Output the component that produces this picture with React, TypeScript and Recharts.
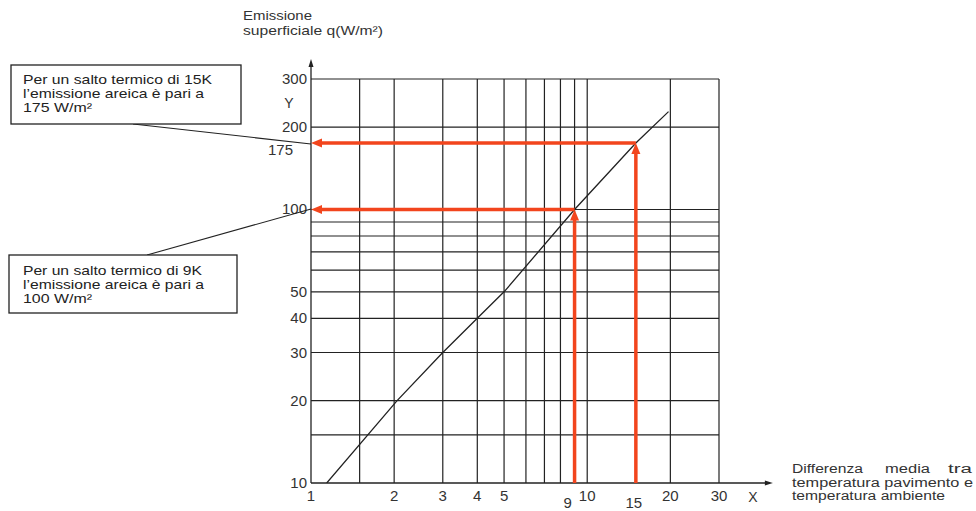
import React from 'react';
import { LineChart, Line, XAxis, YAxis, ReferenceLine } from 'recharts';

// ---- data ----
const xTicks = [1, 2, 3, 4, 5, 9, 10, 15, 20, 30];
const yTicks = [10, 20, 30, 40, 50, 100, 175, 200, 300];
const gridX = [1.5, 2, 3, 4, 5, 6, 7, 8, 9, 10, 20, 30];
const gridY = [15, 20, 30, 40, 50, 60, 70, 80, 90, 100, 200, 300];
const lineX = [1.14, 2.05, 3, 4, 5, 9, 15, 19.7];
const lineY = [10, 20, 30, 40, 50, 100, 175, 228];
const markerX = [9, 15];
const markerY = [100, 175];
const xMin = 1;
const yMin = 10;
const xAxisEnd = 47;
const yAxisEnd = 355;

const data = lineX.map((x, i) => ({ x, q: lineY[i] }));

const FONT = '"Liberation Sans", Arial, sans-serif';
const RED = '#f2451d';
const INK = '#222';

const XTick = (props: any) => {
  const { x, y, payload } = props;
  const v = payload.value;
  const dy = v === 9 ? 24.5 : v === 15 ? 24.5 : 18;
  const dx = v === 9 ? -7 : v === 15 ? -2 : 0;
  return (
    <text x={x + dx} y={y + dy} textAnchor="middle" fontSize={15} fill="#333" fontFamily={FONT}>
      {v}
    </text>
  );
};

const YTick = (props: any) => {
  const { x, y, payload } = props;
  const v = payload.value;
  const special = v === 175;
  return (
    <text
      x={special ? x - 18 : x - 4}
      y={y + (special ? 12 : 5)}
      textAnchor="end"
      fontSize={15}
      fill="#333"
      fontFamily={FONT}
    >
      {v}
    </text>
  );
};

const arrowShape = (color: string, width: number, headLen: number, headHalf: number) => (props: any) => {
  const { x1, y1, x2, y2 } = props;
  const dx = x2 - x1;
  const dy = y2 - y1;
  const len = Math.sqrt(dx * dx + dy * dy) || 1;
  const ux = dx / len;
  const uy = dy / len;
  const bx = x2 - ux * headLen;
  const by = y2 - uy * headLen;
  const px = -uy;
  const py = ux;
  return (
    <g>
      <line x1={x1} y1={y1} x2={bx + ux * 1} y2={by + uy * 1} stroke={color} strokeWidth={width} />
      <polygon
        points={`${x2},${y2} ${bx + px * headHalf},${by + py * headHalf} ${bx - px * headHalf},${by - py * headHalf}`}
        fill={color}
      />
    </g>
  );
};

const redArrow = arrowShape(RED, 3.5, 11, 4.5);
const axisArrow = arrowShape(INK, 1.3, 8, 2.5);

export default function App() {
  return (
    <div style={{ position: 'absolute', left: 0, top: 0, width: 976, height: 511, background: '#fff' }}>
      <LineChart
        width={976}
        height={511}
        data={data}
        margin={{ top: 79, right: 257, bottom: 0, left: 251 }}
      >
        <XAxis
          dataKey="x"
          type="number"
          scale="log"
          domain={[1, 30]}
          ticks={xTicks}
          interval={0}
          axisLine={false}
          tickLine={false}
          tickSize={0}
          tickMargin={0}
          height={28}
          tick={<XTick />}
          allowDataOverflow
        />
        <YAxis
          type="number"
          scale="log"
          domain={[10, 300]}
          ticks={yTicks}
          interval={0}
          axisLine={false}
          tickLine={false}
          tickSize={0}
          tickMargin={0}
          width={60}
          tick={<YTick />}
          allowDataOverflow
        />
        {gridX.map((v) => (
          <ReferenceLine key={'gx' + v} x={v} stroke={INK} strokeWidth={1.2} />
        ))}
        {gridY.map((v) => (
          <ReferenceLine key={'gy' + v} y={v} stroke={INK} strokeWidth={1.2} />
        ))}
        <ReferenceLine
          segment={[{ x: xMin, y: yMin }, { x: xAxisEnd, y: yMin }]}
          ifOverflow="visible"
          shape={axisArrow}
        />
        <ReferenceLine
          segment={[{ x: xMin, y: yMin }, { x: xMin, y: yAxisEnd }]}
          ifOverflow="visible"
          shape={axisArrow}
        />
        <Line
          dataKey="q"
          type="linear"
          stroke={INK}
          strokeWidth={1.3}
          dot={false}
          isAnimationActive={false}
        />
        {markerX.map((mx, i) => (
          <ReferenceLine
            key={'mv' + i}
            segment={[{ x: mx, y: yMin }, { x: mx, y: markerY[i] }]}
            shape={redArrow}
          />
        ))}
        {markerX.map((mx, i) => (
          <ReferenceLine
            key={'mh' + i}
            segment={[{ x: mx, y: markerY[i] }, { x: xMin, y: markerY[i] }]}
            shape={redArrow}
          />
        ))}
      </LineChart>
      <svg
        width={976}
        height={511}
        style={{ position: 'absolute', left: 0, top: 0, pointerEvents: 'none' }}
        fontFamily={FONT}
      >
        {/* axis titles */}
        <text x={243} y={20} fontSize={13.5} fill="#333" textLength={69} lengthAdjust="spacingAndGlyphs">
          Emissione
        </text>
        <text x={243} y={35} fontSize={13.5} fill="#333" textLength={140} lengthAdjust="spacingAndGlyphs">
          superficiale q(W/m²)
        </text>
        <text x={289} y={108} fontSize={14} fill="#333" textAnchor="middle">Y</text>
        <text x={753} y={502} fontSize={14} fill="#333" textAnchor="middle">X</text>
        <text x={792} y={473} fontSize={12.5} fill="#333" textLength={71} lengthAdjust="spacingAndGlyphs">
          Differenza
        </text>
        <text x={885} y={473} fontSize={12.5} fill="#333" textLength={45} lengthAdjust="spacingAndGlyphs">
          media
        </text>
        <text x={948} y={473} fontSize={12.5} fill="#333" textLength={24} lengthAdjust="spacingAndGlyphs">
          tra
        </text>
        <text x={792} y={486.5} fontSize={12.5} fill="#333" textLength={181} lengthAdjust="spacingAndGlyphs">
          temperatura pavimento e
        </text>
        <text x={792} y={500} fontSize={12.5} fill="#333" textLength={153} lengthAdjust="spacingAndGlyphs">
          temperatura ambiente
        </text>

        {/* annotation 1 */}
        <line x1={133} y1={124} x2={311} y2={144} stroke={INK} strokeWidth={1.1} />
        <rect x={11} y={65} width={230} height={59} fill="#fff" stroke={INK} strokeWidth={1.3} />
        <text x={23} y={84} fontSize={13.5} fill="#222" textLength={189} lengthAdjust="spacingAndGlyphs">
          Per un salto termico di 15K
        </text>
        <text x={23} y={98} fontSize={13.5} fill="#222" textLength={181} lengthAdjust="spacingAndGlyphs">
          l’emissione areica è pari a
        </text>
        <text x={23} y={112} fontSize={13.5} fill="#222" textLength={69} lengthAdjust="spacingAndGlyphs">
          175 W/m²
        </text>

        {/* annotation 2 */}
        <line x1={147} y1={255} x2={311} y2={209} stroke={INK} strokeWidth={1.1} />
        <rect x={9} y={255} width={228} height={58} fill="#fff" stroke={INK} strokeWidth={1.3} />
        <text x={23} y={275} fontSize={13.5} fill="#222" textLength={179} lengthAdjust="spacingAndGlyphs">
          Per un salto termico di 9K
        </text>
        <text x={23} y={289} fontSize={13.5} fill="#222" textLength={181} lengthAdjust="spacingAndGlyphs">
          l’emissione areica è pari a
        </text>
        <text x={23} y={303} fontSize={13.5} fill="#222" textLength={69} lengthAdjust="spacingAndGlyphs">
          100 W/m²
        </text>
      </svg>
    </div>
  );
}
